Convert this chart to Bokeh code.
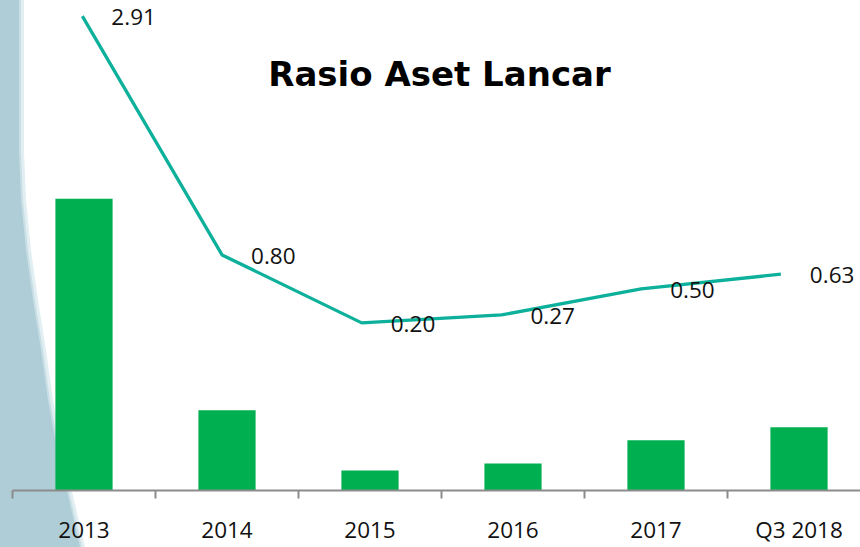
from urllib.parse import quote
from bokeh.plotting import figure
from bokeh.models import Range1d, FixedTicker, Label
from bokeh.core.properties import value
from bokeh.embed import file_html
from bokeh.resources import INLINE

categories = ["2013", "2014", "2015", "2016", "2017", "Q3 2018"]
ratio = [2.91, 0.80, 0.20, 0.27, 0.50, 0.63]
bar_values = [2.91, 0.80, 0.20, 0.27, 0.50, 0.63]
ratio_labels = ["2.91", "0.80", "0.20", "0.27", "0.50", "0.63"]
title_text = "Rasio Aset Lancar"

n = len(categories)
xs = [i + 0.5 for i in range(n)]

# decorative background band (slide background), drawn as a CSS image
band_svg = (
    "<svg xmlns='http://www.w3.org/2000/svg' width='860' height='547'>"
    "<path d='M0 0 L24 0 L24 150 L26 200 L31 250 L38 300 L46 350 L53 400 L62 450 L72 491 L85 547 L0 547 Z' fill='#E2EFF2'/>"
    "<path d='M0 0 L21 0 L21 150 L23 200 L28 250 L35 300 L43 350 L50 400 L59 450 L69 491 L82 547 L0 547 Z' fill='#C9DFE5'/>"
    "<path d='M0 0 L19 0 L19 150 L21 200 L26 250 L33 300 L41 350 L48 400 L57 450 L67 491 L80 547 L0 547 Z' fill='#AECDD6'/>"
    "</svg>"
)
bg_css = 'url("data:image/svg+xml;charset=utf-8,' + quote(band_svg) + '")'

p = figure(width=860, height=547, x_range=Range1d(0, 5.93), y_range=Range1d(0, 4.886),
           output_backend="svg", toolbar_location=None, y_axis_location=None,
           min_border_left=12, min_border_right=0, min_border_top=0, min_border_bottom=0,
           outline_line_color=None, background_fill_color=None, border_fill_color=None)
p.styles = {"background-color": "white", "background-image": bg_css,
            "background-repeat": "no-repeat", "background-size": "860px 547px"}
p.extra_x_ranges = {"line": Range1d(0, 6.07)}
p.extra_y_ranges = {"line": Range1d(-1.281, 3.048)}
p.grid.visible = False

p.vbar(x=xs, top=bar_values, bottom=0, width=0.4, fill_color="#00B050", line_color=None)
p.line(x=xs, y=ratio, x_range_name="line", y_range_name="line",
       line_color="#0DB09A", line_width=3.3)
p.text(x=xs, y=ratio, text=ratio_labels, x_range_name="line", y_range_name="line",
       x_offset=29, y_offset=1, text_align="left", text_baseline="middle",
       text_font=value("Open Sans"), text_font_size="22.5px", text_color="#111111")

title = Label(x=427, y=417, x_units="screen", y_units="screen", text=title_text,
              text_align="center", text_baseline="alphabetic",
              text_font="DejaVu Sans", text_font_style="bold", text_font_size="34px",
              text_color="black")
p.add_layout(title)

ax = p.xaxis[0]
ax.ticker = FixedTicker(ticks=xs, minor_ticks=list(range(n + 1)))
ax.major_label_overrides = {x: c for x, c in zip(xs, categories)}
ax.axis_line_color = "#8C8C8C"
ax.axis_line_width = 2
ax.major_tick_line_color = None
ax.major_tick_out = 0
ax.major_tick_in = 0
ax.minor_tick_line_color = "#8C8C8C"
ax.minor_tick_line_width = 2
ax.minor_tick_out = 8
ax.minor_tick_in = 0
ax.major_label_standoff = 15
ax.major_label_text_font = "Open Sans"
ax.major_label_text_font_size = "22.5px"
ax.major_label_text_color = "#111111"

open("out.html", "w").write(file_html(p, INLINE))
